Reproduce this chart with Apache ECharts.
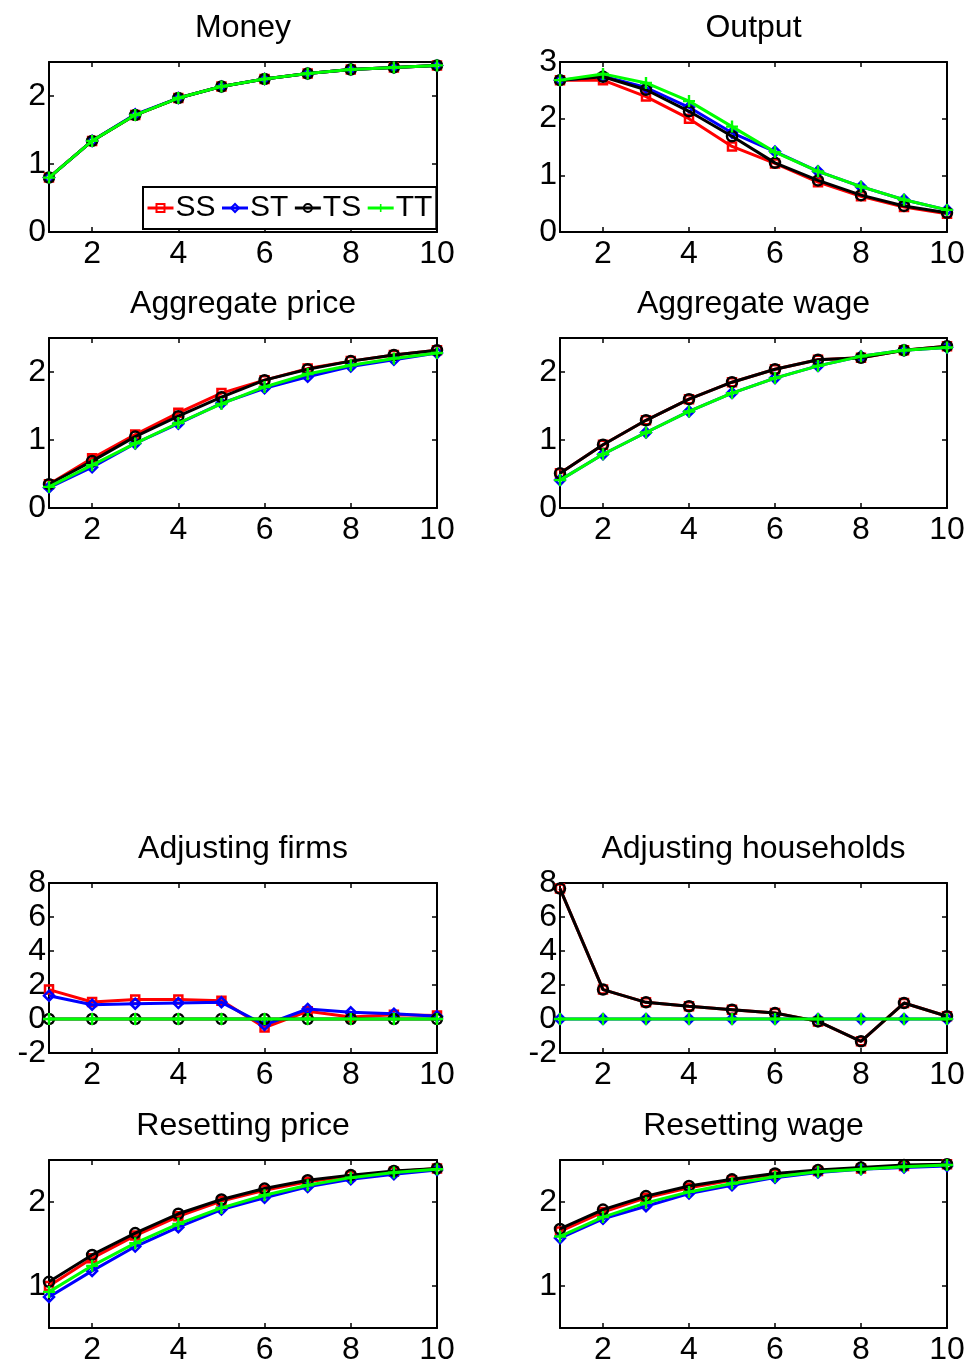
<!DOCTYPE html>
<html><head><meta charset="utf-8">
<script src="https://cdn.jsdelivr.net/npm/echarts@6/dist/echarts.min.js"></script>
<style>html,body{margin:0;padding:0;background:#fff}#c{width:968px;height:1366px}</style>
</head><body><div id="c"></div>
<script>
// ---------- data ----------
const periods = [1,2,3,4,5,6,7,8,9,10];
const xTickValues = [2,4,6,8,10];
const seriesNames = ['SS','ST','TS','TT'];
const panelTitles = ['Money','Output','Aggregate price','Aggregate wage','Adjusting firms','Adjusting households','Resetting price','Resetting wage'];

const moneySS = [0.80,1.34,1.72,1.97,2.14,2.25,2.33,2.39,2.42,2.45];
const moneyST = [0.80,1.34,1.73,1.97,2.14,2.25,2.33,2.39,2.42,2.45];
const moneyTS = [0.80,1.34,1.72,1.97,2.14,2.25,2.33,2.39,2.42,2.45];
const moneyTT = [0.80,1.34,1.72,1.97,2.14,2.25,2.33,2.39,2.42,2.45];

const outputSS = [2.68,2.68,2.39,2.00,1.51,1.21,0.88,0.63,0.44,0.32];
const outputST = [2.68,2.75,2.55,2.20,1.75,1.42,1.07,0.80,0.57,0.39];
const outputTS = [2.68,2.74,2.51,2.13,1.69,1.22,0.91,0.65,0.46,0.34];
const outputTT = [2.68,2.79,2.63,2.31,1.86,1.41,1.07,0.80,0.57,0.39];

const aggPriceSS = [0.35,0.73,1.08,1.40,1.69,1.88,2.05,2.16,2.25,2.32];
const aggPriceST = [0.30,0.60,0.95,1.24,1.54,1.76,1.93,2.08,2.18,2.28];
const aggPriceTS = [0.35,0.69,1.05,1.35,1.63,1.88,2.04,2.16,2.25,2.32];
const aggPriceTT = [0.31,0.63,0.95,1.25,1.53,1.78,1.97,2.10,2.20,2.28];

const aggWageSS = [0.51,0.93,1.29,1.60,1.85,2.04,2.18,2.21,2.32,2.38];
const aggWageST = [0.41,0.79,1.11,1.42,1.69,1.91,2.09,2.23,2.32,2.36];
const aggWageTS = [0.51,0.93,1.29,1.60,1.85,2.04,2.18,2.21,2.32,2.38];
const aggWageTT = [0.41,0.79,1.11,1.42,1.69,1.91,2.09,2.23,2.32,2.36];

const adjFirmsSS = [1.73,1.00,1.14,1.14,1.08,-0.50,0.45,0.12,0.25,0.20];
const adjFirmsST = [1.37,0.84,0.90,0.94,0.98,-0.35,0.59,0.39,0.31,0.16];
const adjFirmsTS = [0,0,0,0,0,0,0,0,0,0];
const adjFirmsTT = [0,0,0,0,0,0,0,0,0,0];

const adjHouseSS = [7.67,1.73,0.98,0.75,0.55,0.35,-0.14,-1.31,0.94,0.16];
const adjHouseST = [0,0,0,0,0,0,0,0,0,0];
const adjHouseTS = [7.67,1.73,0.98,0.75,0.55,0.35,-0.14,-1.31,0.94,0.16];
const adjHouseTT = [0,0,0,0,0,0,0,0,0,0];

const resetPriceSS = [1.00,1.33,1.60,1.83,2.01,2.14,2.24,2.31,2.36,2.40];
const resetPriceST = [0.87,1.18,1.47,1.70,1.91,2.05,2.18,2.27,2.33,2.38];
const resetPriceTS = [1.05,1.37,1.63,1.86,2.03,2.16,2.26,2.32,2.37,2.40];
const resetPriceTT = [0.93,1.24,1.51,1.74,1.93,2.08,2.20,2.29,2.35,2.39];

const resetWageSS = [1.65,1.88,2.05,2.17,2.26,2.33,2.37,2.40,2.43,2.45];
const resetWageST = [1.57,1.80,1.95,2.10,2.20,2.29,2.35,2.39,2.41,2.43];
const resetWageTS = [1.68,1.91,2.07,2.19,2.27,2.34,2.38,2.41,2.44,2.45];
const resetWageTT = [1.59,1.82,1.99,2.12,2.22,2.30,2.36,2.39,2.42,2.44];

const yMins = [0,0,0,0,-2,-2,0.5,0.5];
const yMaxs = [2.5,3,2.5,2.5,8,8,2.5,2.5];
const yTicksA = [0,1,2];
const yTicksB = [0,1,2,3];
const yTicksC = [-2,0,2,4,6,8];
const yTicksD = [1,2];

// ---------- assembly ----------
const panelData = [
  [moneySS,moneyST,moneyTS,moneyTT],
  [outputSS,outputST,outputTS,outputTT],
  [aggPriceSS,aggPriceST,aggPriceTS,aggPriceTT],
  [aggWageSS,aggWageST,aggWageTS,aggWageTT],
  [adjFirmsSS,adjFirmsST,adjFirmsTS,adjFirmsTT],
  [adjHouseSS,adjHouseST,adjHouseTS,adjHouseTT],
  [resetPriceSS,resetPriceST,resetPriceTS,resetPriceTT],
  [resetWageSS,resetWageST,resetWageTS,resetWageTT]
];
const panelYTicks = [yTicksA,yTicksB,yTicksA,yTicksA,yTicksC,yTicksC,yTicksD,yTicksD];

const FONT = "'Liberation Sans', Arial, Helvetica, sans-serif";
const colLeft = [49, 560];
const colWidth = [388, 387];
const rowTop = [62, 338, 883, 1160];
const rowHeight = [170, 170, 170, 169];
const colors = ['#ff0000','#0000ff','#000000','#00ff00'];
const plusPath = 'path://M4,0H6V4H10V6H6V10H4V6H0V4H4Z';
const symbols = ['rect','diamond','circle',plusPath];
const symSizes = [8,10,10,12];

const grids=[], xAxes=[], yAxes=[], series=[], titles=[];
const axisLineStyle = {show:true, onZero:false, lineStyle:{color:'#000', width:2}};
const tickStyle = {color:'#000', width:1.5};
for (let p=0;p<8;p++){
  const c = p%2, r = Math.floor(p/2);
  grids.push({left:colLeft[c], top:rowTop[r], width:colWidth[c], height:rowHeight[r], containLabel:false});
  titles.push({text:panelTitles[p], left:colLeft[c]+colWidth[c]/2, top:rowTop[r]-50, textAlign:'center', padding:0,
    textStyle:{fontFamily:FONT, fontSize:32, fontWeight:'normal', color:'#000'}});
  const xBase = {type:'value', gridIndex:p, min:1, max:10, splitLine:{show:false}, axisLine:axisLineStyle};
  xAxes.push(Object.assign({}, xBase, {position:'bottom',
    axisTick:{show:true, inside:true, length:5, lineStyle:tickStyle, customValues:xTickValues},
    axisLabel:{show:true, customValues:xTickValues, fontFamily:FONT, fontSize:32, color:'#000', margin:6}}));
  xAxes.push(Object.assign({}, xBase, {position:'top',
    axisTick:{show:true, inside:true, length:5, lineStyle:tickStyle, customValues:xTickValues},
    axisLabel:{show:false}}));
  const yBase = {type:'value', gridIndex:p, min:yMins[p], max:yMaxs[p], splitLine:{show:false}, axisLine:axisLineStyle};
  yAxes.push(Object.assign({}, yBase, {position:'left',
    axisTick:{show:true, inside:true, length:5, lineStyle:tickStyle, customValues:panelYTicks[p]},
    axisLabel:{show:true, customValues:panelYTicks[p], fontFamily:FONT, fontSize:32, color:'#000', margin:3}}));
  yAxes.push(Object.assign({}, yBase, {position:'right',
    axisTick:{show:true, inside:true, length:5, lineStyle:tickStyle, customValues:panelYTicks[p]},
    axisLabel:{show:false}}));
  for (let s=0;s<4;s++){
    const isPlus = s===3;
    series.push({
      name:seriesNames[s], type:'line', xAxisIndex:2*p, yAxisIndex:2*p,
      data: periods.map((x,i)=>[x, panelData[p][s][i]]),
      symbol:symbols[s], symbolSize:symSizes[s], showSymbol:true,
      lineStyle:{color:colors[s], width:3},
      itemStyle: isPlus ? {color:colors[s], borderWidth:0} : {color:'rgba(255,255,255,0)', borderColor:colors[s], borderWidth:2.5},
      z: 2+s, animation:false, silent:true
    });
  }
}

const chart = echarts.init(document.getElementById('c'), null, {renderer:'canvas'});
chart.setOption({
  animation:false,
  backgroundColor:'#fff',
  title: titles,
  grid: grids, xAxis: xAxes, yAxis: yAxes, series: series,
  legend: {
    data: seriesNames, left:143, top:187, orient:'horizontal',
    itemWidth:26, itemHeight:10, itemGap:5,
    lineStyle:{width:3},
    padding:[6,4,6,3], borderColor:'#000', borderWidth:2, backgroundColor:'#fff',
    textStyle:{fontFamily:FONT, fontSize:30, color:'#000', padding:[0,0,0,-3]},
    selectedMode:false, z:20
  }
});
</script></body></html>
